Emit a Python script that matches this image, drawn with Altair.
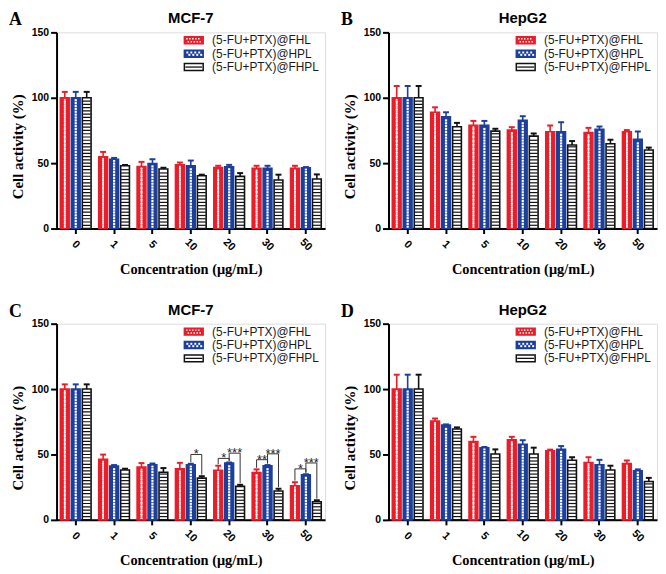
import altair as alt
import pandas as pd
import numpy as np

CONC = ["0", "1", "5", "10", "20", "30", "50"]
SERIES = ["(5-FU+PTX)@FHL", "(5-FU+PTX)@HPL", "(5-FU+PTX)@FHPL"]

# Panel A - MCF-7
A_FHL = [100, 54.8, 47.5, 48.7, 46.7, 46.0, 46.0]
A_FHL_ERR = [4.5, 3.8, 3.5, 1.8, 1.3, 2.0, 2.0]
A_HPL = [100, 53.0, 49.7, 48.0, 47.2, 46.0, 46.5]
A_HPL_ERR = [4.5, 1.0, 3.3, 4.0, 1.5, 2.0, 0.5]
A_FHPL = [100, 48.0, 45.5, 40.4, 39.9, 37.1, 37.9]
A_FHPL_ERR = [4.5, 0.6, 1.0, 0.8, 2.5, 4.1, 3.5]

# Panel B - HepG2
B_FHL = [100, 88.9, 79.0, 75.3, 74.0, 73.5, 74.0]
B_FHL_ERR = [9.0, 3.8, 3.3, 2.2, 4.8, 3.5, 1.3]
B_HPL = [100, 85.4, 79.0, 82.8, 74.0, 75.8, 68.2]
B_HPL_ERR = [9.0, 3.5, 3.3, 3.1, 7.3, 2.2, 6.0]
B_FHPL = [100, 77.8, 74.5, 70.7, 63.9, 64.9, 60.1]
B_FHPL_ERR = [9.0, 3.0, 1.8, 2.0, 3.0, 3.0, 1.8]

# Panel C - MCF-7
C_FHL = [100, 46.4, 40.4, 39.1, 37.9, 36.1, 26.1]
C_FHL_ERR = [3.6, 3.5, 3.0, 4.5, 3.5, 2.5, 2.7]
C_HPL = [100, 41.1, 42.1, 42.1, 43.4, 41.4, 34.4]
C_HPL_ERR = [3.6, 0.8, 1.0, 0.8, 0.5, 0.5, 0.5]
C_FHPL = [100, 38.1, 36.4, 31.9, 25.6, 22.1, 13.8]
C_FHPL_ERR = [3.6, 1.0, 3.2, 1.5, 1.2, 1.7, 1.2]

# Panel D - HepG2
D_FHL = [100, 75.5, 59.9, 61.2, 52.9, 43.9, 43.1]
D_FHL_ERR = [11.0, 2.0, 3.6, 2.3, 0.8, 4.0, 2.3]
D_HPL = [100, 72.5, 55.2, 57.7, 53.9, 42.1, 37.6]
D_HPL_ERR = [11.0, 0.5, 0.5, 3.2, 2.5, 3.8, 1.0]
D_FHPL = [100, 69.5, 50.4, 50.4, 45.6, 38.1, 29.3]
D_FHPL_ERR = [11.0, 1.2, 3.5, 4.8, 2.3, 3.3, 2.8]

# Significance brackets (panel C)
BRK_CONC = ["10", "20", "20", "30", "30", "50", "50"]
BRK_FROM = [1, 0, 1, 0, 1, 0, 1]
BRK_TO = [2, 1, 2, 1, 2, 1, 2]
BRK_TOP = [50.0, 47.0, 51.0, 46.0, 50.5, 39.0, 43.5]
BRK_LABEL = ["*", "*", "***", "**", "***", "*", "***"]

RED = "#ea1d29"
BLUE = "#1c3f9c"
BLACK = "#111111"
SANS = "Liberation Sans"
SERIF = "Liberation Serif"
W, H = 271, 198
YTITLE = "Cell activity (%)"
XTITLE = "Concentration (μg/mL)"


def make_panel(letter, title, vals, errs, brackets=None):
    rows = []
    for si, s in enumerate(SERIES):
        for ci, c in enumerate(CONC):
            v = vals[si][ci]
            rows.append(dict(conc=c, series=s, value=v, top=v + errs[si][ci]))
    df = pd.DataFrame(rows)

    xaxis = alt.Axis(labelAngle=45, labelAlign="center", labelBaseline="middle",
                     labelPadding=11, labelFont=SANS, labelFontWeight="bold",
                     labelFontSize=11, labelColor="black", tickSize=5, tickWidth=2,
                     tickColor="black", domainWidth=2, domainColor="black",
                     titleFont=SERIF, titleFontSize=14.5, titleFontWeight="bold",
                     titleColor="black", titlePadding=10)
    yaxis = alt.Axis(values=[0, 50, 100, 150], grid=False, labelFont=SANS,
                     labelFontWeight="bold", labelFontSize=10.5, labelColor="black",
                     labelPadding=2, tickSize=6, tickWidth=2, tickColor="black",
                     domainWidth=2, domainColor="black", titleFont=SERIF,
                     titleFontSize=15, titleFontWeight="bold", titleColor="black",
                     titlePadding=6, titleY=115)

    def X(ax=None):
        if ax is None:
            return alt.X("conc:N", sort=CONC, title=XTITLE,
                         scale=alt.Scale(paddingInner=0.2, paddingOuter=0.1))
        return alt.X("conc:N", sort=CONC, title=XTITLE, axis=ax,
                     scale=alt.Scale(paddingInner=0.2, paddingOuter=0.1))

    XO = alt.XOffset("series:N", sort=SERIES,
                     scale=alt.Scale(paddingInner=0.2, paddingOuter=0))

    def Y(field, ax=None):
        if ax is None:
            return alt.Y(f"{field}:Q", title=YTITLE,
                         scale=alt.Scale(domain=[0, 150], nice=False))
        return alt.Y(f"{field}:Q", title=YTITLE, axis=ax,
                     scale=alt.Scale(domain=[0, 150], nice=False))

    base = alt.Chart(df)
    fill_bars = base.mark_bar().encode(
        x=X(xaxis), xOffset=XO, y=Y("value", yaxis),
        fill=alt.Fill("series:N", sort=SERIES, legend=None,
                      scale=alt.Scale(domain=SERIES, range=[RED, BLUE, "white"])),
    )

    # pattern data derived from the values
    red_dots, blue_dots, stripes = [], [], []
    for ci, c in enumerate(CONC):
        v = vals[0][ci]
        for i, yy in enumerate(np.arange(1.0, v - 0.8, 1.5)):
            cols = [-2, 2] if i % 2 == 0 else [0]
            for cc in cols:
                red_dots.append(dict(conc=c, series=SERIES[0], y=yy, col=cc))
        v = vals[1][ci]
        for i, yy in enumerate(np.arange(1.3, v - 1.0, 2.2)):
            blue_dots.append(dict(conc=c, series=SERIES[1], y=yy, col=-1.5 if i % 2 == 0 else 1.5))
        v = vals[2][ci]
        for yy in np.arange(2.5, v - 0.8, 2.5):
            stripes.append(dict(conc=c, series=SERIES[2], y=yy))
    rd = pd.DataFrame(red_dots)
    bd = pd.DataFrame(blue_dots)
    sd = pd.DataFrame(stripes)

    layers = [fill_bars]
    for cc in [-2, 0, 2]:
        layers.append(
            alt.Chart(rd[rd.col == cc]).mark_square(size=3.2, color="white", opacity=1, xOffset=cc)
            .encode(x=X(), xOffset=XO, y=Y("y"))
        )
    for cc in [-1.5, 1.5]:
        layers.append(
            alt.Chart(bd[bd.col == cc]).mark_square(size=5, color="white", opacity=1, xOffset=cc)
            .encode(x=X(), xOffset=XO, y=Y("y"))
        )
    layers.append(
        alt.Chart(sd).mark_tick(size=8, thickness=1.2, color=BLACK, opacity=1)
        .encode(x=X(), xOffset=XO, y=Y("y"))
    )

    col_scale = alt.Scale(domain=SERIES, range=[RED, BLUE, BLACK])
    layers.append(
        base.mark_bar(filled=False, strokeWidth=1.6).encode(
            x=X(), xOffset=XO, y=Y("value"),
            color=alt.Color("series:N", sort=SERIES, legend=None, scale=col_scale))
    )
    layers.append(
        base.mark_rule(strokeWidth=1.6).encode(
            x=X(), xOffset=XO, y=Y("value"), y2="top:Q",
            color=alt.Color("series:N", sort=SERIES, legend=None, scale=col_scale))
    )
    layers.append(
        base.mark_tick(size=6, thickness=2, opacity=1).encode(
            x=X(), xOffset=XO, y=Y("top"),
            color=alt.Color("series:N", sort=SERIES, legend=None, scale=col_scale))
    )

    if brackets is not None:
        bconc, bfrom, bto, btop, blabel = brackets
        tops = {(SERIES[si], c): vals[si][ci] + errs[si][ci]
                for si in range(3) for ci, c in enumerate(CONC)}
        pts, labs = [], []
        for k in range(len(bconc)):
            c = bconc[k]
            s1, s2 = SERIES[bfrom[k]], SERIES[bto[k]]
            pts += [dict(id=k, o=0, conc=c, series=s1, y=tops[(s1, c)] + 1.2),
                    dict(id=k, o=1, conc=c, series=s1, y=btop[k]),
                    dict(id=k, o=2, conc=c, series=s2, y=btop[k]),
                    dict(id=k, o=3, conc=c, series=s2, y=tops[(s2, c)] + 1.2)]
            labs.append(dict(conc=c, series=s1, y=btop[k], label=blabel[k]))
        layers.append(
            alt.Chart(pd.DataFrame(pts)).mark_line(color="#333333", strokeWidth=1)
            .encode(x=X(), xOffset=XO, y=Y("y"), detail="id:N", order="o:Q")
        )
        layers.append(
            alt.Chart(pd.DataFrame(labs)).mark_text(font=SANS, fontSize=13, color="#222222",
                                                   dx=5.5, dy=4, baseline="alphabetic")
            .encode(x=X(), xOffset=XO, y=Y("y"), text="label:N")
        )

    # legend (pixel positions)
    leg_rows = [8, 21.5, 35]
    sw = pd.DataFrame(dict(x0=[129] * 3, x1=[148] * 3,
                           y0=[r - 3.5 for r in leg_rows], y1=[r + 3.5 for r in leg_rows],
                           series=SERIES, ty=leg_rows))
    px = dict(scale=None, axis=None)
    layers.append(
        alt.Chart(sw).mark_rect(strokeWidth=1.5).encode(
            x=alt.X("x0:Q", **px), x2="x1:Q", y=alt.Y("y0:Q", **px), y2="y1:Q",
            fill=alt.Fill("series:N", sort=SERIES, legend=None,
                          scale=alt.Scale(domain=SERIES, range=[RED, BLUE, "white"])),
            stroke=alt.Stroke("series:N", sort=SERIES, legend=None,
                              scale=alt.Scale(domain=SERIES, range=[RED, BLUE, BLACK])))
    )
    sq = []
    for j, yy in enumerate([leg_rows[0] - 1.5, leg_rows[0] + 1.5]):
        for xx in np.arange(131.5 + (1.5 if j % 2 else 0), 146.5, 3):
            sq.append(dict(x=xx, y=yy, s=2.2))
    for j, yy in enumerate([leg_rows[1] - 1.2, leg_rows[1] + 1.2]):
        for xx in np.arange(132 + (2 if j % 2 else 0), 146.5, 4):
            sq.append(dict(x=xx, y=yy, s=4))
    layers.append(
        alt.Chart(pd.DataFrame(sq)).mark_square(color="white", opacity=1).encode(
            x=alt.X("x:Q", **px), y=alt.Y("y:Q", **px),
            size=alt.Size("s:Q", scale=None, legend=None))
    )
    layers.append(
        alt.Chart(pd.DataFrame(dict(x0=[130], x1=[147], y=[leg_rows[2]]))).mark_rule(
            color=BLACK, strokeWidth=1.3).encode(
            x=alt.X("x0:Q", **px), x2="x1:Q", y=alt.Y("y:Q", **px))
    )
    layers.append(
        alt.Chart(sw).mark_text(align="left", baseline="middle", font=SANS, fontSize=12,
                                color="#1a1a1a").encode(
            x=alt.value(157), y=alt.Y("ty:Q", **px), text="series:N")
    )

    # panel letter and title
    layers.append(
        alt.Chart(pd.DataFrame(dict(t=[letter]))).mark_text(
            align="left", baseline="alphabetic", font=SERIF, fontSize=18,
            fontWeight="bold", color="black").encode(
            x=alt.value(-48), y=alt.value(-7), text="t:N")
    )
    layers.append(
        alt.Chart(pd.DataFrame(dict(t=[title]))).mark_text(
            align="center", baseline="alphabetic", font=SANS, fontSize=15,
            fontWeight="bold", color="black").encode(
            x=alt.value(W / 2), y=alt.value(-9), text="t:N")
    )

    return alt.layer(*layers).properties(width=W, height=H)


pA = make_panel("A", "MCF-7", [A_FHL, A_HPL, A_FHPL], [A_FHL_ERR, A_HPL_ERR, A_FHPL_ERR])
pB = make_panel("B", "HepG2", [B_FHL, B_HPL, B_FHPL], [B_FHL_ERR, B_HPL_ERR, B_FHPL_ERR])
pC = make_panel("C", "MCF-7", [C_FHL, C_HPL, C_FHPL], [C_FHL_ERR, C_HPL_ERR, C_FHPL_ERR],
                brackets=(BRK_CONC, BRK_FROM, BRK_TO, BRK_TOP, BRK_LABEL))
pD = make_panel("D", "HepG2", [D_FHL, D_HPL, D_FHPL], [D_FHL_ERR, D_HPL_ERR, D_FHPL_ERR])

chart = alt.vconcat(
    alt.hconcat(pA, pB, spacing=14),
    alt.hconcat(pC, pD, spacing=14),
    spacing=26,
).properties(padding=0).configure_view(stroke=None).configure(background="white")

chart.save("out.html", embed_options={"renderer": "svg", "actions": False})
